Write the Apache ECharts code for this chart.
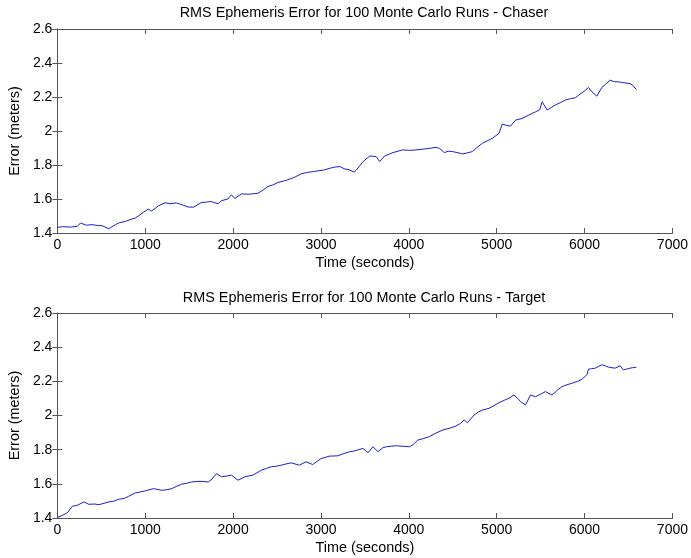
<!DOCTYPE html>
<html>
<head>
<meta charset="utf-8">
<script src="https://cdn.jsdelivr.net/npm/echarts@6/dist/echarts.min.js"></script>
<style>
  html, body { margin: 0; padding: 0; background: #fff; }
  #chart { width: 691px; height: 558px; }
</style>
</head>
<body>
<div id="chart"></div>
<script>
// Time stamps (s) and RMS ephemeris error (m) over 100 Monte Carlo runs
var chaserTime = [0, 60, 150, 226, 264, 330, 395, 460, 508, 585, 660, 696, 774, 847, 887, 979, 1035, 1073,
  1151, 1226, 1280, 1355, 1420, 1487, 1550, 1637, 1700, 1750, 1792, 1830, 1868, 1940, 1981, 2019, 2094,
  2180, 2283, 2340, 2396, 2450, 2509, 2570, 2623, 2700, 2774, 2850, 2925, 3000, 3038, 3102, 3151, 3215,
  3264, 3320, 3377, 3404, 3440, 3479, 3555, 3630, 3668, 3725, 3819, 3932, 4010, 4083, 4160, 4234, 4309,
  4350, 4404, 4450, 4498, 4560, 4611, 4670, 4725, 4780, 4838, 4900, 4951, 5026, 5064, 5110, 5158, 5215,
  5291, 5366, 5442, 5490, 5517, 5574, 5620, 5668, 5730, 5781, 5840, 5894, 5970, 6010, 6045, 6083, 6140,
  6196, 6240, 6291, 6340, 6385, 6430, 6460, 6517, 6550, 6590];
var chaserError = [1.433, 1.437, 1.435, 1.439, 1.459, 1.446, 1.449, 1.444, 1.443, 1.425, 1.449, 1.459, 1.468, 1.482, 1.488, 1.521, 1.541, 1.529,
  1.56, 1.578, 1.572, 1.577, 1.566, 1.553, 1.552, 1.579, 1.582, 1.585, 1.578, 1.572, 1.59, 1.6, 1.625, 1.603, 1.63,
  1.628, 1.634, 1.652, 1.674, 1.682, 1.697, 1.705, 1.713, 1.728, 1.748, 1.757, 1.762, 1.768, 1.771, 1.781, 1.787, 1.791,
  1.778, 1.772, 1.758, 1.771, 1.795, 1.82, 1.853, 1.849, 1.82, 1.853, 1.873, 1.889, 1.886, 1.889, 1.893, 1.898, 1.904,
  1.897, 1.873, 1.881, 1.879, 1.872, 1.865, 1.872, 1.879, 1.905, 1.928, 1.944, 1.957, 1.986, 2.041, 2.033, 2.029, 2.064,
  2.074, 2.094, 2.113, 2.125, 2.172, 2.123, 2.138, 2.153, 2.168, 2.182, 2.19, 2.195, 2.225, 2.24, 2.256, 2.231, 2.205,
  2.256, 2.275, 2.299, 2.29, 2.289, 2.285, 2.283, 2.279, 2.268, 2.244];

var targetTime = [0, 57, 113, 170, 226, 302, 358, 420, 472, 530, 585, 640, 698, 760, 811, 887, 940, 1000, 1094,
  1189, 1250, 1302, 1360, 1415, 1470, 1528, 1623, 1717, 1760, 1811, 1868, 1930, 1981, 2057, 2132, 2226,
  2321, 2380, 2434, 2490, 2547, 2600, 2660, 2755, 2830, 2906, 3000, 3050, 3094, 3189, 3264, 3328, 3377,
  3430, 3479, 3536, 3592, 3649, 3700, 3743, 3800, 3857, 3930, 4008, 4050, 4102, 4170, 4234, 4300, 4385,
  4460, 4536, 4590, 4630, 4668, 4743, 4790, 4838, 4913, 4970, 5026, 5090, 5140, 5196, 5240, 5272, 5328,
  5385, 5442, 5500, 5555, 5630, 5690, 5743, 5800, 5857, 5920, 5970, 6026, 6045, 6080, 6121, 6160, 6196,
  6240, 6272, 6347, 6404, 6442, 6480, 6517, 6550, 6590];
var targetError = [1.402, 1.416, 1.43, 1.469, 1.474, 1.494, 1.48, 1.482, 1.478, 1.486, 1.494, 1.498, 1.51, 1.514, 1.527, 1.547, 1.552, 1.559, 1.572,
  1.562, 1.566, 1.572, 1.586, 1.598, 1.603, 1.611, 1.615, 1.611, 1.628, 1.66, 1.641, 1.646, 1.651, 1.621, 1.641, 1.651,
  1.68, 1.69, 1.7, 1.703, 1.709, 1.716, 1.723, 1.709, 1.729, 1.713, 1.748, 1.755, 1.762, 1.764, 1.778, 1.788, 1.792,
  1.8, 1.807, 1.782, 1.817, 1.788, 1.81, 1.817, 1.82, 1.823, 1.82, 1.817, 1.83, 1.856, 1.866, 1.876, 1.895, 1.915,
  1.925, 1.938, 1.955, 1.974, 1.958, 2.003, 2.02, 2.032, 2.042, 2.058, 2.075, 2.09, 2.101, 2.12, 2.1, 2.081, 2.062,
  2.12, 2.11, 2.125, 2.14, 2.12, 2.148, 2.169, 2.18, 2.189, 2.2, 2.212, 2.238, 2.271, 2.274, 2.277, 2.288, 2.297,
  2.29, 2.283, 2.277, 2.291, 2.267, 2.272, 2.277, 2.28, 2.283];

var titles = ['RMS Ephemeris Error for 100 Monte Carlo Runs - Chaser',
              'RMS Ephemeris Error for 100 Monte Carlo Runs - Target'];
var xLabel = 'Time (seconds)';
var yLabel = 'Error (meters)';
var xTicks = { min: 0, max: 7000, interval: 1000 };
var yTicks = { min: 1.4, max: 2.6, interval: 0.2 };

function pairs(xs, ys) {
  return xs.map(function (x, i) { return [x, ys[i]]; });
}

var FONT = '"Liberation Sans", Arial, sans-serif';
var TICK_SIZE = 14;
var TEXT_SIZE = 14.4;
var AXIS_COLOR = '#555';
var LINE_COLOR = '#1c1cd4';

var grids = [
  { left: 55, right: 16, top: 29, height: 204 },
  { left: 55, right: 16, top: 313, height: 205 }
];

function xAxes(gi) {
  return [
    {
      type: 'value', gridIndex: gi, position: 'bottom',
      min: xTicks.min, max: xTicks.max, interval: xTicks.interval,
      name: xLabel, nameLocation: 'middle', nameGap: 23,
      nameTextStyle: { color: '#000', fontFamily: FONT, fontSize: TEXT_SIZE },
      axisLine: { show: true, lineStyle: { color: AXIS_COLOR, width: 1 } },
      axisTick: { show: true, inside: true, length: 5, lineStyle: { color: AXIS_COLOR } },
      axisLabel: { color: '#000', fontFamily: FONT, fontSize: TICK_SIZE, margin: 5,
                   formatter: function (v) { return String(v); } },
      splitLine: { show: false }
    },
    {
      type: 'value', gridIndex: gi, position: 'top',
      min: xTicks.min, max: xTicks.max, interval: xTicks.interval,
      axisLine: { show: true, lineStyle: { color: AXIS_COLOR, width: 1 } },
      axisTick: { show: true, inside: true, length: 5, lineStyle: { color: AXIS_COLOR } },
      axisLabel: { show: false },
      splitLine: { show: false }
    }
  ];
}

function yAxes(gi) {
  return [
    {
      type: 'value', gridIndex: gi, position: 'left',
      min: yTicks.min, max: yTicks.max, interval: yTicks.interval,
      name: yLabel, nameLocation: 'middle', nameGap: 26, nameRotate: 90,
      nameTextStyle: { color: '#000', fontFamily: FONT, fontSize: TEXT_SIZE },
      axisLine: { show: true, lineStyle: { color: AXIS_COLOR, width: 1 } },
      axisTick: { show: true, inside: true, length: 5, lineStyle: { color: AXIS_COLOR } },
      axisLabel: { color: '#000', fontFamily: FONT, fontSize: TICK_SIZE, margin: 5,
                   formatter: function (v) { return String(Math.round(v * 10) / 10); } },
      splitLine: { show: false }
    },
    {
      type: 'value', gridIndex: gi, position: 'right',
      min: yTicks.min, max: yTicks.max, interval: yTicks.interval,
      axisLine: { show: true, lineStyle: { color: AXIS_COLOR, width: 1 } },
      axisTick: { show: true, inside: true, length: 5, lineStyle: { color: AXIS_COLOR } },
      axisLabel: { show: false },
      splitLine: { show: false }
    }
  ];
}

var chart = echarts.init(document.getElementById('chart'), null, { renderer: 'canvas' });

var titleStyle = { fontFamily: FONT, fontSize: TEXT_SIZE, fontWeight: 'normal', color: '#000' };

chart.setOption({
  backgroundColor: '#fff',
  animation: false,
  title: [
    { text: titles[0], left: 364, top: 6, padding: 0, textAlign: 'center', textStyle: titleStyle },
    { text: titles[1], left: 364, top: 291, padding: 0, textAlign: 'center', textStyle: titleStyle }
  ],
  grid: grids,
  xAxis: xAxes(0).concat(xAxes(1)),
  yAxis: yAxes(0).concat(yAxes(1)),
  series: [
    {
      type: 'line', xAxisIndex: 0, yAxisIndex: 0,
      data: pairs(chaserTime, chaserError),
      showSymbol: false, smooth: false,
      lineStyle: { color: LINE_COLOR, width: 1 }
    },
    {
      type: 'line', xAxisIndex: 2, yAxisIndex: 2,
      data: pairs(targetTime, targetError),
      showSymbol: false, smooth: false,
      lineStyle: { color: LINE_COLOR, width: 1 }
    }
  ]
});
</script>
</body>
</html>
